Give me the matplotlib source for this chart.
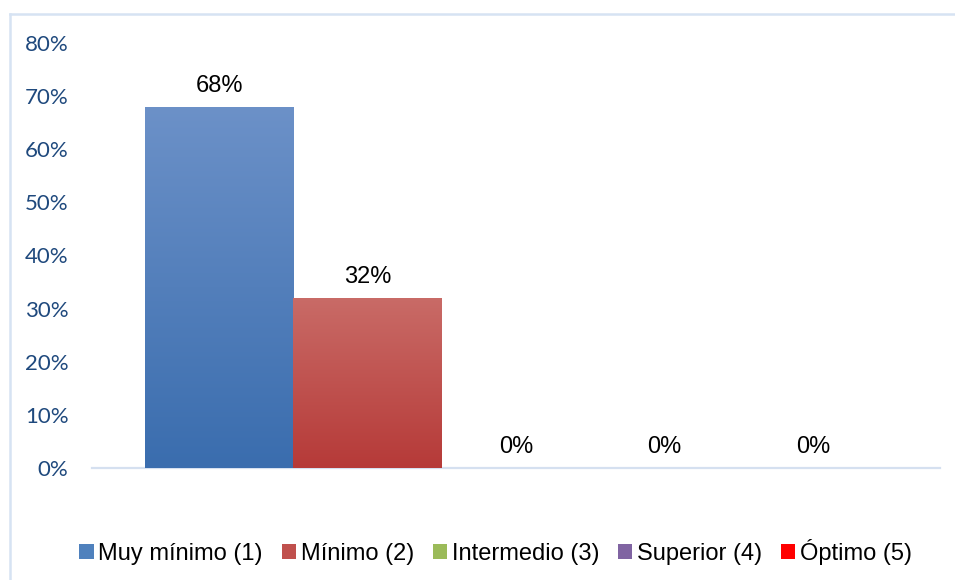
import numpy as np
import matplotlib
matplotlib.use("Agg")
import matplotlib.pyplot as plt
from matplotlib.colors import LinearSegmentedColormap
from matplotlib.patches import Patch
from matplotlib.lines import Line2D
from matplotlib.ticker import PercentFormatter

# survey result, one group of bars
series = ["Muy mínimo (1)", "Mínimo (2)", "Intermedio (3)", "Superior (4)", "Óptimo (5)"]
values = [0.68, 0.32, 0.0, 0.0, 0.0]
colors = ["#4F81BD", "#C0504D", "#9BBB59", "#8064A2", "#FF0000"]
# top / bottom shades used for the bar gradients
grad_top = ["#6C91C8", "#C96B67", "#B5CF7F", "#9A82BA", "#FF4A4A"]
grad_bottom = ["#3A6DAE", "#B63A38", "#86A646", "#6A4F8E", "#D90000"]
yticks = np.arange(0, 0.81, 0.1)

plt.rcParams["font.family"] = ["Liberation Sans", "DejaVu Sans"]

fig = plt.figure(figsize=(9.55, 5.8), dpi=100)
ax = fig.add_axes([0.0963, 0.1931, 0.888, 0.7328])

width = 0.175
offsets = (np.arange(len(series)) - (len(series) - 1) / 2) * width
bars = ax.bar(offsets, values, width=width, color=colors, linewidth=0, zorder=2)

# vertical gradient fill for each bar
for bar, top, bottom in zip(bars, grad_top, grad_bottom):
    h = bar.get_height()
    if h <= 0:
        continue
    cmap = LinearSegmentedColormap.from_list("g", [bottom, top])
    x0 = bar.get_x()
    grad = np.linspace(0, 1, 256).reshape(-1, 1)
    im = ax.imshow(grad, extent=[x0, x0 + bar.get_width(), 0, h], origin="lower",
                   aspect="auto", cmap=cmap, zorder=3)
    im.set_clip_path(bar)

for bar, v in zip(bars, values):
    ax.annotate(f"{v * 100:.0f}%", (bar.get_x() + bar.get_width() / 2, v),
                xytext=(0, 7), textcoords="offset points", ha="center", va="bottom",
                fontsize=17, color="black")

ax.set_xlim(-0.5, 0.5)
ax.set_ylim(0, 0.8)
ax.set_yticks(yticks)
ax.yaxis.set_major_formatter(PercentFormatter(1.0, decimals=0))
ax.tick_params(axis="y", length=0, pad=17, labelsize=16, labelcolor="#1F497D")
for lbl in ax.get_yticklabels():
    lbl.set_family(["Lato", "DejaVu Sans"])
ax.set_xticks([])
for side in ["top", "right", "left"]:
    ax.spines[side].set_visible(False)
ax.spines["bottom"].set_color("#D5E0F0")
ax.spines["bottom"].set_linewidth(1.6)

handles = [Patch(facecolor=c, edgecolor="none") for c in colors]
fig.legend(handles, series, loc="center", bbox_to_anchor=(0.519, 0.049), ncol=5,
           frameon=False, fontsize=17, handlelength=0.6, handleheight=0.6,
           handletextpad=0.2, columnspacing=0.8, borderpad=0)

# chart area outline (top and left edges)
fig.add_artist(Line2D([9.5 / 955, 9.5 / 955], [0, 1 - 14 / 580],
                      transform=fig.transFigure, color="#D6E3F3", linewidth=1.8))
fig.add_artist(Line2D([9.5 / 955, 1], [1 - 14 / 580, 1 - 14 / 580],
                      transform=fig.transFigure, color="#D6E3F3", linewidth=1.8))

fig.savefig("out.png", dpi=100)
plt.close(fig)
